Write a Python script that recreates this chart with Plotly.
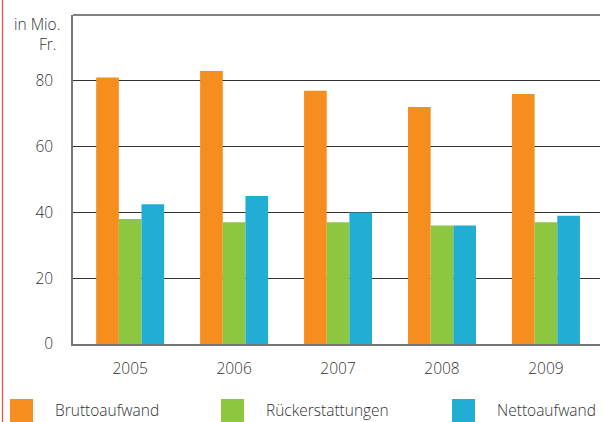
import plotly.graph_objects as go

years = ["2005", "2006", "2007", "2008", "2009"]
brutto = [81, 83, 77, 72, 76]
rueck = [38, 37, 37, 36, 37]
netto = [42.5, 45, 40, 36, 39]
series_names = ["Bruttoaufwand", "Rückerstattungen", "Nettoaufwand"]
colors = ["#F68D1F", "#8DC63F", "#22AED4"]
y_ticks = [0, 20, 40, 60, 80]
y_ticklabels = ["0", "20", "40", "60", "80"]

W, H = 602, 422
L, R, T, B = 73, 2, 15, 78
pw = W - L - R
ph = H - T - B

fig = go.Figure()
for name, vals, col in zip(series_names, [brutto, rueck, netto], colors):
    fig.add_trace(go.Bar(x=years, y=vals, name=name, marker=dict(color=col, line=dict(width=0)),
                         showlegend=False))

txt = "#333333"
fam = "Open Sans, Lato, sans-serif"
font = dict(family=fam, size=15, color=txt, weight=300)

fig.update_layout(
    width=W, height=H,
    margin=dict(l=L, r=R, t=T, b=B),
    paper_bgcolor="white", plot_bgcolor="white",
    barmode="group", bargap=0.346, bargroupgap=0,
    font=font,
    xaxis=dict(type="category", range=[-0.55, 4.52], showline=True, linecolor="#777777", linewidth=1.5,
               showgrid=False, ticks="", tickfont=dict(family=fam, size=15.5, color=txt, weight=300),
               ticklabelstandoff=10),
    yaxis=dict(range=[0, 100], tickvals=y_ticks, ticktext=y_ticklabels, showgrid=True,
               gridcolor="#333333", gridwidth=1, zeroline=False, showline=True, linecolor="#777777",
               linewidth=1.5, ticks="", tickfont=dict(family=fam, size=15.5, color=txt, weight=300),
               ticklabelstandoff=15),
)

def px_x(x):
    return (x - L) / pw

def px_y(y):
    return (H - B - y) / ph

shapes = []
# top rule of the plot area (100 gridline)
shapes.append(dict(type="line", xref="paper", yref="paper", x0=0, x1=1, y0=1, y1=1,
                   line=dict(color="#555555", width=1.5), layer="below"))
# red vertical rule at the left edge
shapes.append(dict(type="line", xref="paper", yref="paper", x0=px_x(2.5), x1=px_x(2.5), y0=px_y(0), y1=px_y(H),
                   line=dict(color="#EF4B3F", width=1.2)))
afont = dict(family=fam, size=15.5, color=txt, weight=300)
annotations = [
    dict(text="in Mio.", xref="paper", yref="paper", x=px_x(62), y=px_y(24), xanchor="right",
         yanchor="middle", showarrow=False, font=afont),
    dict(text="Fr.", xref="paper", yref="paper", x=px_x(59), y=px_y(44), xanchor="right",
         yanchor="middle", showarrow=False, font=afont),
]
legend_x = [10, 221, 452]
for lx, name, col in zip(legend_x, series_names, colors):
    shapes.append(dict(type="rect", xref="paper", yref="paper", x0=px_x(lx), x1=px_x(lx + 23),
                       y0=px_y(399), y1=px_y(422), fillcolor=col, line=dict(width=0)))
    annotations.append(dict(text=name, xref="paper", yref="paper", x=px_x(lx + 43), y=px_y(410),
                            xanchor="left", yanchor="middle", showarrow=False,
                            font=dict(family=fam, size=15.5, color=txt, weight=300)))
fig.update_layout(shapes=shapes, annotations=annotations)

fig.write_html("out.html", config={"displayModeBar": False},
               post_script="document.body.style.margin='0';document.body.style.overflow='hidden';")
